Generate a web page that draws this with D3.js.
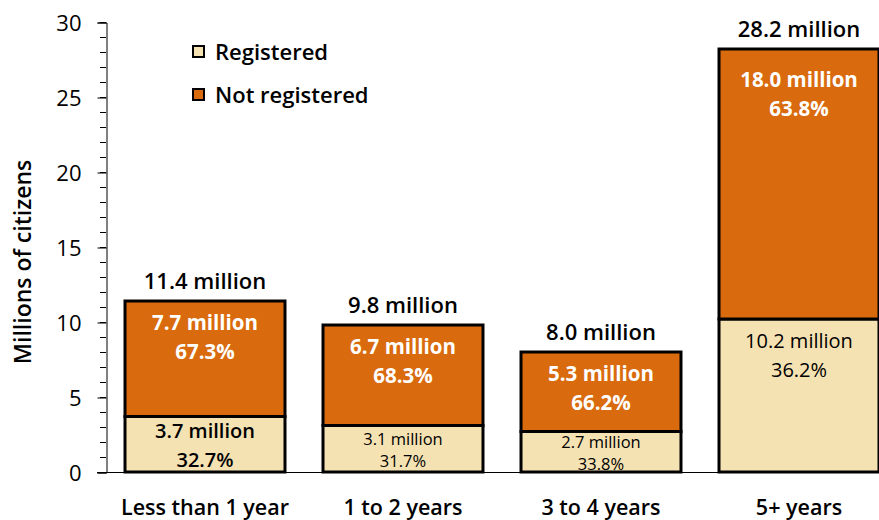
<!DOCTYPE html>
<html>
<head>
<meta charset="utf-8">
<script src="https://cdn.jsdelivr.net/npm/d3@7"></script>
<style>
  body { margin: 0; background: #fff; }
  text { font-family: "Open Sans", sans-serif; }
</style>
</head>
<body>
<script>
var categories = ["Less than 1 year", "1 to 2 years", "3 to 4 years", "5+ years"];
var registered = [3.7, 3.1, 2.7, 10.2];
var notRegistered = [7.7, 6.7, 5.3, 18.0];
var totals = [11.4, 9.8, 8.0, 28.2];
var regPct = ["32.7%", "31.7%", "33.8%", "36.2%"];
var notRegPct = ["67.3%", "68.3%", "66.2%", "63.8%"];
var yTicks = [0, 5, 10, 15, 20, 25, 30];
var legendNames = ["Registered", "Not registered"];

var w = 879, h = 520;
var colReg = "#f5e2b3", colNot = "#d96a0d";

var svg = d3.select("body").append("svg")
    .attr("width", w)
    .attr("height", h);

var x = d3.scaleBand()
    .domain(categories)
    .range([106, 898])
    .paddingInner(0.192)
    .paddingOuter(0.096);

var y = d3.scaleLinear()
    .domain([0, 30])
    .range([472, 22]);

// minor ticks
svg.selectAll("line.minor")
    .data(d3.range(0, 31))
    .enter()
    .append("line")
    .attr("x1", 100).attr("x2", 106)
    .attr("y1", function (d) { return y(d) + 0.5; })
    .attr("y2", function (d) { return y(d) + 0.5; })
    .attr("stroke", "#000").attr("stroke-width", 1);

// major axis
var yAxis = d3.axisLeft(y).tickValues(yTicks).tickSize(9).tickPadding(16);
var gy = svg.append("g")
    .attr("transform", "translate(106.5,0.5)")
    .call(yAxis);
gy.select(".domain").attr("stroke", "#000");
gy.selectAll(".tick line").attr("stroke", "#000");
gy.selectAll(".tick text")
    .style("font-size", "22px")
    .style("font-weight", 400)
    .attr("fill", "#000")
    .attr("dy", "0.35em");

svg.append("text")
    .attr("transform", "translate(31,262) rotate(-90)")
    .attr("text-anchor", "middle")
    .style("font-size", "23px")
    .style("font-weight", 600)
    .text("Millions of citizens");

// bars
var rows = categories.map(function (c, i) {
    return {cat: c, reg: registered[i], not: notRegistered[i], total: totals[i], rp: regPct[i], np: notRegPct[i]};
});

var g = svg.selectAll("g.bar")
    .data(rows)
    .enter()
    .append("g")
    .attr("class", "bar");

g.append("rect")
    .attr("x", function (d) { return x(d.cat); })
    .attr("width", x.bandwidth())
    .attr("y", function (d) { return y(d.reg); })
    .attr("height", function (d) { return y(0) - y(d.reg); })
    .attr("fill", colReg)
    .attr("stroke", "#000").attr("stroke-width", 3);

g.append("rect")
    .attr("x", function (d) { return x(d.cat); })
    .attr("width", x.bandwidth())
    .attr("y", function (d) { return y(d.reg + d.not); })
    .attr("height", function (d) { return y(d.reg) - y(d.reg + d.not); })
    .attr("fill", colNot)
    .attr("stroke", "#000").attr("stroke-width", 3);

// total labels
g.append("text")
    .attr("x", function (d) { return x(d.cat) + x.bandwidth() / 2; })
    .attr("y", function (d) { return y(d.total) - 12; })
    .attr("text-anchor", "middle")
    .style("font-size", "22px")
    .style("font-weight", 600)
    .text(function (d) { return d3.format(".1f")(d.total) + " million"; });

// not registered labels
g.each(function (d) {
    var sel = d3.select(this);
    var cx = x(d.cat) + x.bandwidth() / 2;
    var top = y(d.reg + d.not);
    var segH = y(d.reg) - top;
    var off = segH > 200 ? 31 : 22;
    [d3.format(".1f")(d.not) + " million", d.np].forEach(function (t, k) {
        sel.append("text")
            .attr("x", cx)
            .attr("y", top + off + k * 29)
            .attr("dy", "0.35em")
            .attr("text-anchor", "middle")
            .attr("fill", "#fff")
            .style("font-size", "20.5px")
            .style("font-weight", 700)
            .text(t);
    });

    // registered labels
    var rTop = y(d.reg);
    var rH = y(0) - rTop;
    var small = rH < 50;
    var gap = small ? 22 : 29;
    var first;
    if (rH < 120) first = rTop + rH / 2 - gap / 2 + 1;
    else first = rTop + 22;
    [d3.format(".1f")(d.reg) + " million", d.rp].forEach(function (t, k) {
        sel.append("text")
            .attr("x", cx)
            .attr("y", first + k * gap)
            .attr("dy", "0.35em")
            .attr("text-anchor", "middle")
            .attr("fill", "#000")
            .style("font-size", small ? "16.5px" : "20px")
            .style("font-weight", small ? 400 : (rH < 120 ? 600 : 400))
            .text(t);
    });
});

// baseline
svg.append("line")
    .attr("x1", 97).attr("x2", w)
    .attr("y1", y(0) + 0.5).attr("y2", y(0) + 0.5)
    .attr("stroke", "#000").attr("stroke-width", 1);

// category labels
svg.selectAll("text.cat")
    .data(categories)
    .enter()
    .append("text")
    .attr("class", "cat")
    .attr("x", function (d) { return x(d) + x.bandwidth() / 2; })
    .attr("y", 507)
    .attr("dy", "0.35em")
    .attr("text-anchor", "middle")
    .style("font-size", "21.5px")
    .style("font-weight", 600)
    .text(function (d) { return d; });

// legend
var lg = svg.selectAll("g.legend")
    .data(legendNames)
    .enter()
    .append("g")
    .attr("class", "legend")
    .attr("transform", function (d, i) { return "translate(193," + (46 + i * 43) + ")"; });
lg.append("rect")
    .attr("width", 11).attr("height", 11)
    .attr("fill", function (d, i) { return i == 0 ? colReg : colNot; })
    .attr("stroke", "#000").attr("stroke-width", 2);
lg.append("text")
    .attr("x", 22).attr("y", 6)
    .attr("dy", "0.35em")
    .style("font-size", "22px")
    .style("font-weight", 600)
    .text(function (d) { return d; });
</script>
</body>
</html>
